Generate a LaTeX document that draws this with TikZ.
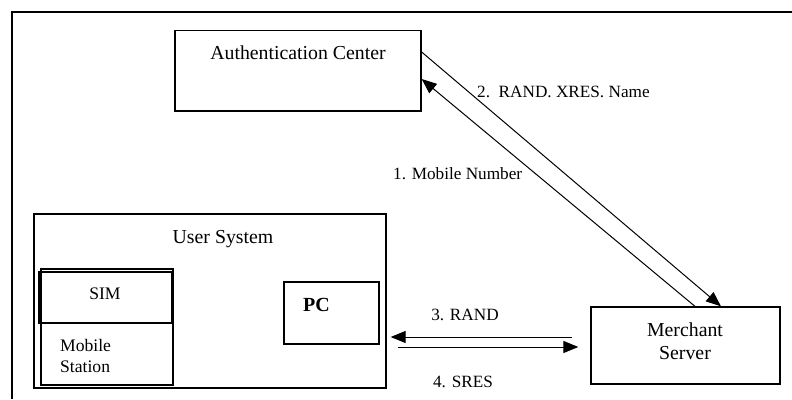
\documentclass[tikz,border=0pt]{standalone}
\usepackage{fontspec}
\setmainfont{Liberation Serif}
\usetikzlibrary{arrows.meta}
\begin{document}
\begin{tikzpicture}[x=1pt,y=1pt,
  box/.style={draw, line width=1.3pt, inner sep=0pt},
  lbl/.style={anchor=base, inner sep=0pt, font=\fontsize{17.2}{20}\selectfont},
  smalltxt/.style={anchor=base, inner sep=0pt, font=\fontsize{17.6}{21}\selectfont},
  boxtxt/.style={anchor=base, inner sep=0pt, font=\fontsize{19.8}{23}\selectfont},
  conn/.style={line width=1pt, -{Triangle[length=15pt,width=12pt]}}]
\useasboundingbox (0,0) rectangle (792,-399);
\fill[white] (0,0) rectangle (792,-399);
% outer frame
\draw[line width=1.3pt] (12,-399) -- (12,-12) -- (792,-12);
% boxes
\node[box, minimum width=246pt, minimum height=80.5pt] (auth) at (298,-70.75) {};
\node[box, minimum width=352pt, minimum height=174pt] (user) at (210,-301) {};
\node[box, minimum width=132pt, minimum height=116pt] (ms) at (107,-327) {};
\node[box, minimum width=133pt, minimum height=51pt] (sim) at (105.5,-297.5) {};
\node[box, minimum width=95pt, minimum height=62pt] (pc) at (331.5,-313) {};
\node[box, minimum width=189pt, minimum height=77pt] (merch) at (685.5,-345.5) {};
% texts
\node[boxtxt] (authT) at (298,-59) {Authentication Center};
\node[boxtxt] (userT) at (223,-243) {User System};
\node[smalltxt] (simT) at (105,-299) {SIM};
\node[smalltxt, anchor=base west] (msT1) at (60,-351) {Mobile};
\node[smalltxt, anchor=base west] (msT2) at (60,-372) {Station};
\node[anchor=base west, inner sep=0pt, font=\bfseries\fontsize{20}{24}\selectfont] (pcT) at (303,-311) {PC};
\node[boxtxt] (merchT1) at (685,-336) {Merchant};
\node[boxtxt] (merchT2) at (685,-359) {Server};
% connectors
\draw[conn] ([xshift=9.5pt]merch.north) -- ([yshift=-8.25pt]auth.east);
\draw[conn] ([yshift=18.75pt]auth.east) -- ([xshift=35.5pt]merch.north);
\draw[conn] ([xshift=-18pt,yshift=8.5pt]merch.west) -- ([xshift=4pt,yshift=-36pt]user.east);
\draw[conn] ([xshift=11pt,yshift=-46pt]user.east) -- ([xshift=-12pt,yshift=-1.5pt]merch.west);
% connector labels
\node[lbl, anchor=base west] (l1) at (393,-179) {1. Mobile Number};
\node[lbl, anchor=base west] (l2) at (477,-97) {2.\ \ RAND. XRES. Name};
\node[lbl] (l3) at (465,-320) {3. RAND};
\node[lbl] (l4) at (463,-387) {4. SRES};
\end{tikzpicture}
\end{document}
